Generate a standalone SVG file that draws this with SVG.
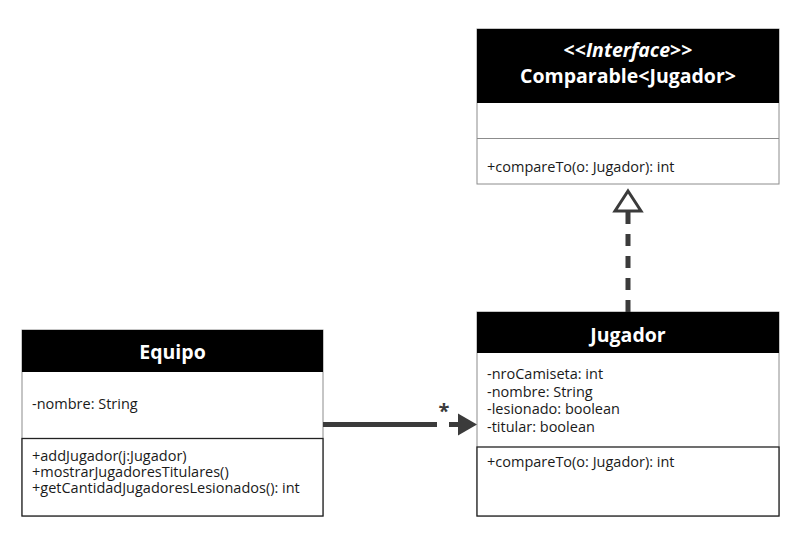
<svg xmlns="http://www.w3.org/2000/svg" width="802" height="538" viewBox="0 0 802 538">
<style>
.box{fill:#fff;stroke:#8c8c8c;stroke-width:1}
.mbox{fill:#fff;stroke:#222;stroke-width:1.3}
.hdr{fill:#000}
.ttl{font-family:"Open Sans",sans-serif;font-weight:bold;font-size:19.5px;fill:#fff;text-anchor:middle}
.txt{font-family:"Open Sans",sans-serif;font-size:14.5px;fill:#1a1a1a}
.conn{stroke:#3b3b3b;stroke-width:5;fill:none}
</style>
<rect width="802" height="538" fill="#fff"/>
<g id="comparable">
<rect class="box" x="477" y="29" width="302" height="155"/>
<rect class="hdr" x="477" y="29" width="302" height="74"/>
<line x1="477" y1="138.5" x2="779" y2="138.5" stroke="#8c8c8c"/>
<text class="ttl" x="628" y="57" font-size="17.6">&lt;&lt;<tspan font-style="italic">Interface</tspan>&gt;&gt;</text>
<text class="ttl" x="628" y="83">Comparable&lt;Jugador&gt;</text>
<text class="txt" x="487" y="172">+compareTo(o: Jugador): int</text>
</g>
<g id="equipo">
<rect class="box" x="22" y="330" width="301" height="186"/>
<rect class="hdr" x="22" y="330" width="301" height="42"/>
<rect class="mbox" x="22" y="438.5" width="301" height="77.5"/>
<text class="ttl" x="172.5" y="359">Equipo</text>
<text class="txt" x="32" y="409">-nombre: String</text>
<text class="txt" x="32" y="461">+addJugador(j:Jugador)</text>
<text class="txt" x="32" y="477">+mostrarJugadoresTitulares()</text>
<text class="txt" x="32" y="493">+getCantidadJugadoresLesionados(): int</text>
</g>
<g id="jugador">
<rect class="box" x="477" y="312" width="302" height="204"/>
<rect class="hdr" x="477" y="312" width="302" height="41"/>
<rect class="mbox" x="477" y="447" width="302" height="69"/>
<text class="ttl" x="628" y="342">Jugador</text>
<text class="txt" x="487" y="379">-nroCamiseta: int</text>
<text class="txt" x="487" y="396.5">-nombre: String</text>
<text class="txt" x="487" y="414">-lesionado: boolean</text>
<text class="txt" x="487" y="431.5">-titular: boolean</text>
<text class="txt" x="487" y="467">+compareTo(o: Jugador): int</text>
</g>
<g id="connectors">
<line class="conn" x1="323" y1="424.5" x2="437" y2="424.5"/>
<line class="conn" x1="449" y1="424.5" x2="460" y2="424.5"/>
<polygon points="458,413.5 477,424.5 458,435.5" fill="#3b3b3b"/>
<text x="444" y="418" font-family="'Open Sans',sans-serif" font-weight="bold" font-size="20" fill="#3b3b3b" text-anchor="middle">*</text>
<line class="conn" x1="628" y1="312" x2="628" y2="212" stroke-dasharray="12,10"/>
<polygon points="628,191 641,211 615,211" fill="#fff" stroke="#3b3b3b" stroke-width="3"/>
</g>
</svg>
